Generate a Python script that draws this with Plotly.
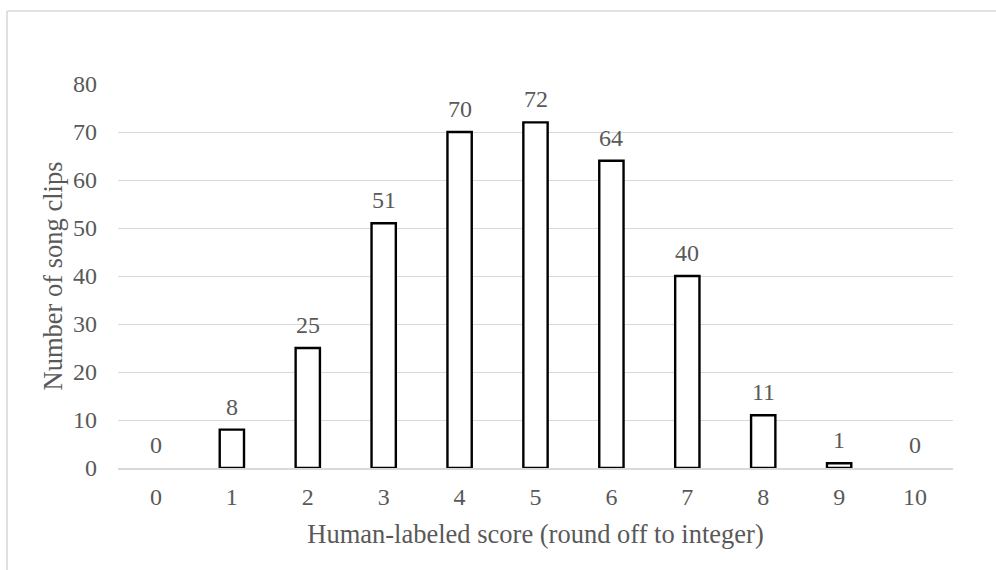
import plotly.graph_objects as go

categories = ["0", "1", "2", "3", "4", "5", "6", "7", "8", "9", "10"]
counts = [0, 8, 25, 51, 70, 72, 64, 40, 11, 1, 0]
y_ticks = [0, 10, 20, 30, 40, 50, 60, 70, 80]
x_title = "Human-labeled score (round off to integer)"
y_title = "Number of song clips"

W, H = 996, 570
L, R, T, B = 118, 43, 84, 102
pw, ph = W - L - R, H - T - B

font_family = "Liberation Serif"
gray = "#595959"
grid = "#d9d9d9"

fig = go.Figure()
fig.add_trace(go.Bar(
    x=categories, y=counts,
    marker=dict(color="white",
                line=dict(color="black",
                          width=[2.4 if v > 0 else 0 for v in counts])),
    width=0.32,
    hoverinfo="x+y",
))

for c, v in zip(categories, counts):
    fig.add_annotation(x=c, y=v, text=str(v), showarrow=False,
                       yanchor="middle", yshift=23,
                       font=dict(family=font_family, size=24, color=gray))

def px_to_paper_x(px):
    return (px - L) / pw

def px_to_paper_y(py):
    return (H - B - py) / ph

# chart-area border (top and left visible)
fig.add_shape(type="line", xref="paper", yref="paper",
              x0=px_to_paper_x(7), x1=px_to_paper_x(1005),
              y0=px_to_paper_y(11), y1=px_to_paper_y(11),
              line=dict(color=grid, width=1.6))
fig.add_shape(type="line", xref="paper", yref="paper",
              x0=px_to_paper_x(7), x1=px_to_paper_x(7),
              y0=px_to_paper_y(11), y1=px_to_paper_y(580),
              line=dict(color=grid, width=1.6))

fig.update_layout(
    width=W, height=H,
    margin=dict(l=L, r=R, t=T, b=B, pad=0),
    paper_bgcolor="white", plot_bgcolor="white",
    showlegend=False,
    font=dict(family=font_family, color=gray, size=24),
    xaxis=dict(
        type="category",
        showgrid=False, showline=True, linecolor=grid, linewidth=1.6,
        layer="above traces",
        ticks="", tickfont=dict(family=font_family, size=24, color=gray),
        ticklabelstandoff=6,
        title=dict(text=x_title, font=dict(family=font_family, size=26.5, color=gray), standoff=16),
    ),
    yaxis=dict(
        range=[0, 80], tickvals=y_ticks,
        showgrid=True, gridcolor=grid, gridwidth=1.3,
        zeroline=False, showline=False, ticks="",
        tickfont=dict(family=font_family, size=24, color=gray),
        ticklabelstandoff=20,
        title=dict(text=y_title, font=dict(family=font_family, size=26.5, color=gray), standoff=2),
    ),
)

fig.write_html("out.html")
